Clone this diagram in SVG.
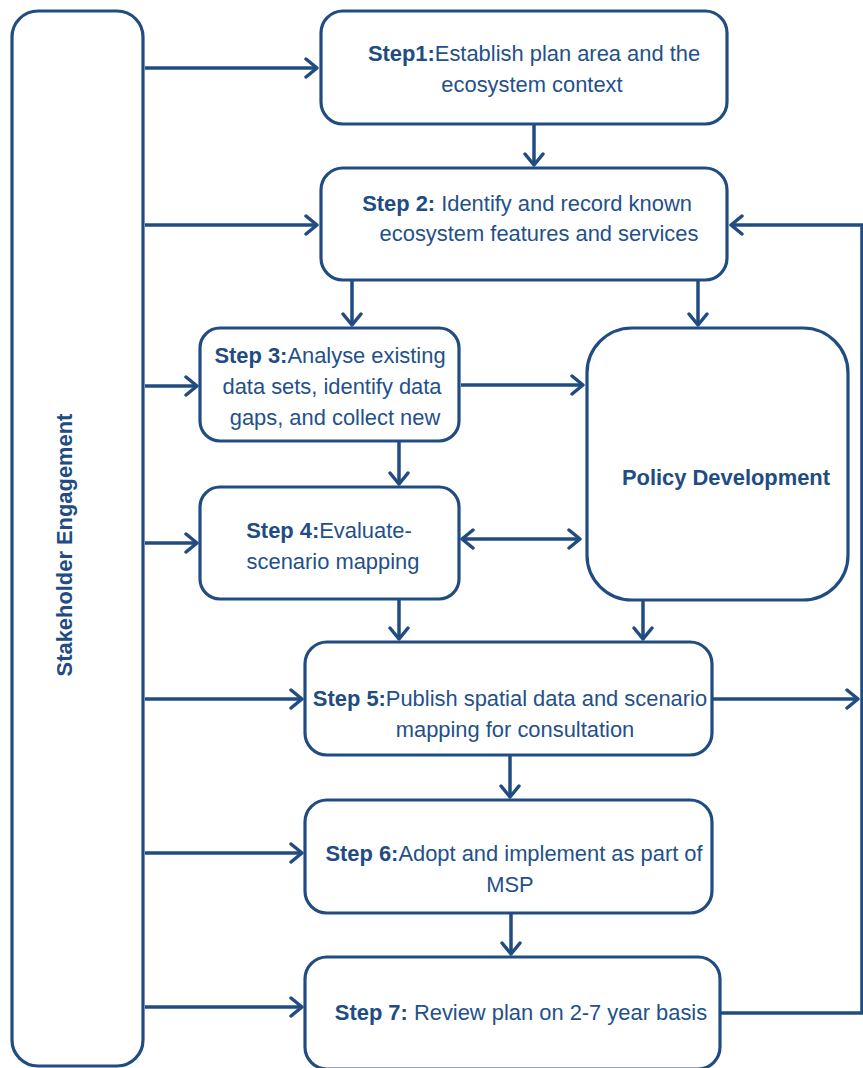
<svg xmlns="http://www.w3.org/2000/svg" width="863" height="1068" viewBox="0 0 863 1068">
<defs>
<style>
.box{fill:#fff;stroke:#214c82;stroke-width:3.2}
.c{fill:none;stroke:#214c82;stroke-width:3.5}
.t{font-family:"Liberation Sans",Arial,sans-serif;font-size:21.9px;fill:#24508a}
.b{font-weight:bold;fill:#214c82}
</style>
<marker id="ah" markerUnits="userSpaceOnUse" markerWidth="16" markerHeight="24" refX="13" refY="12" orient="auto-start-reverse">
<path d="M2,3 L13,12 L2,21" fill="none" stroke="#214c82" stroke-width="3.5" stroke-linecap="round" stroke-linejoin="round"/>
</marker>
</defs>
<rect width="863" height="1068" fill="#fff"/>

<g id="stakeholder">
<rect class="box" x="12" y="11" width="131" height="1055" rx="26"/>
<text class="t b" transform="translate(72,545) rotate(-90)" text-anchor="middle">Stakeholder Engagement</text>
</g>

<g id="step1">
<rect class="box" x="321" y="11" width="406" height="113" rx="22"/>
<text class="t" x="534" y="61" text-anchor="middle"><tspan class="b">Step1:</tspan>Establish plan area and the</text>
<text class="t" x="532" y="92" text-anchor="middle">ecosystem context</text>
</g>

<g id="step2">
<rect class="box" x="321" y="168" width="406" height="112" rx="22"/>
<text class="t" x="527" y="211" text-anchor="middle"><tspan class="b">Step 2:</tspan> Identify and record known</text>
<text class="t" x="539" y="241" text-anchor="middle">ecosystem features and services</text>
</g>

<g id="step3">
<rect class="box" x="200" y="328" width="259" height="113" rx="20"/>
<text class="t" x="330" y="363" text-anchor="middle"><tspan class="b">Step 3:</tspan>Analyse existing</text>
<text class="t" x="332" y="394" text-anchor="middle">data sets, identify data</text>
<text class="t" x="335" y="425" text-anchor="middle">gaps, and collect new</text>
</g>

<g id="step4">
<rect class="box" x="200" y="487" width="259" height="112" rx="20"/>
<text class="t" x="329" y="538" text-anchor="middle"><tspan class="b">Step 4:</tspan>Evaluate-</text>
<text class="t" x="333" y="569" text-anchor="middle">scenario mapping</text>
</g>

<g id="policy">
<rect class="box" x="587" y="328" width="261" height="272" rx="45"/>
<text class="t b" x="726" y="485" text-anchor="middle">Policy Development</text>
</g>

<g id="step5">
<rect class="box" x="305" y="642" width="407" height="113" rx="22"/>
<text class="t" x="510" y="706" text-anchor="middle"><tspan class="b">Step 5:</tspan>Publish spatial data and scenario</text>
<text class="t" x="515" y="737" text-anchor="middle">mapping for consultation</text>
</g>

<g id="step6">
<rect class="box" x="305" y="800" width="407" height="113" rx="22"/>
<text class="t" x="514" y="861" text-anchor="middle"><tspan class="b">Step 6:</tspan>Adopt and implement as part of</text>
<text class="t" x="510" y="892" text-anchor="middle">MSP</text>
</g>

<g id="step7">
<rect class="box" x="305" y="957" width="415" height="112" rx="22"/>
<text class="t" x="521" y="1020" text-anchor="middle"><tspan class="b">Step 7:</tspan> Review plan on 2-7 year basis</text>
</g>

<g id="connectors">
<line class="c" x1="145" y1="68" x2="317" y2="68" marker-end="url(#ah)"/>
<line class="c" x1="145" y1="225" x2="317" y2="225" marker-end="url(#ah)"/>
<line class="c" x1="145" y1="386" x2="197" y2="386" marker-end="url(#ah)"/>
<line class="c" x1="145" y1="543" x2="197" y2="543" marker-end="url(#ah)"/>
<line class="c" x1="145" y1="699" x2="302" y2="699" marker-end="url(#ah)"/>
<line class="c" x1="145" y1="853" x2="302" y2="853" marker-end="url(#ah)"/>
<line class="c" x1="145" y1="1007" x2="302" y2="1007" marker-end="url(#ah)"/>

<line class="c" x1="534" y1="125" x2="534" y2="165" marker-end="url(#ah)"/>
<line class="c" x1="352" y1="281" x2="352" y2="325" marker-end="url(#ah)"/>
<line class="c" x1="698" y1="281" x2="698" y2="325" marker-end="url(#ah)"/>
<line class="c" x1="461" y1="385" x2="583" y2="385" marker-end="url(#ah)"/>
<line class="c" x1="399" y1="442" x2="399" y2="484" marker-end="url(#ah)"/>
<line class="c" x1="462" y1="539" x2="580" y2="539" marker-start="url(#ah)" marker-end="url(#ah)"/>
<line class="c" x1="399" y1="600" x2="399" y2="639" marker-end="url(#ah)"/>
<line class="c" x1="643" y1="601" x2="643" y2="639" marker-end="url(#ah)"/>
<line class="c" x1="510" y1="756" x2="510" y2="797" marker-end="url(#ah)"/>
<line class="c" x1="511" y1="914" x2="511" y2="954" marker-end="url(#ah)"/>
<line class="c" x1="713" y1="699" x2="858" y2="699" marker-end="url(#ah)"/>
<polyline class="c" points="721,1013 862,1013 862,225 731,225" marker-end="url(#ah)"/>
</g>
</svg>
